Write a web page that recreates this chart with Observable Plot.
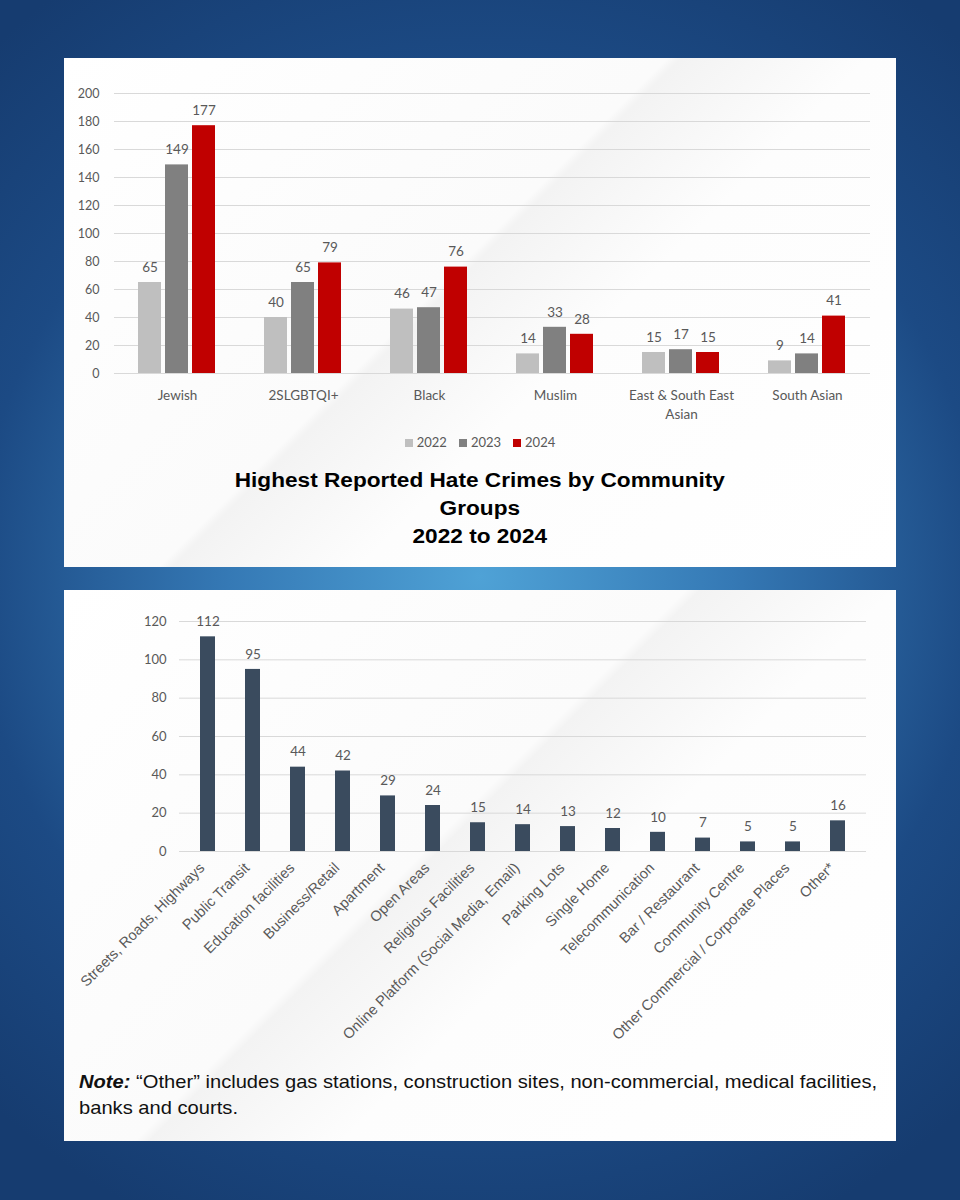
<!DOCTYPE html>
<html>
<head>
<meta charset="utf-8">
<script src="https://cdn.jsdelivr.net/npm/d3@7"></script>
<script src="https://cdn.jsdelivr.net/npm/@observablehq/plot@0.6"></script>
<style>
  html, body { margin: 0; padding: 0; }
  body {
    width: 960px; height: 1200px; position: relative; overflow: hidden;
    background: radial-gradient(ellipse 75% 60% at 50% 48%, #4fa2d6 0%, #3579b5 35%, #1c4a84 70%, #163c70 100%);
  }
  .panel {
    position: absolute; left: 64px; width: 832px;
    background: linear-gradient(135deg, #ffffff 0%, #fbfbfb 45%, #f3f3f3 46%, #fdfdfd 60%, #ffffff 100%);
    overflow: hidden;
  }
  #top { top: 58px; height: 509px; }
  #bottom { top: 590px; height: 551px; }
  .plot { position: absolute; left: 0; top: 0; }
  .legend {
    position: absolute; top: 376px; left: 0; width: 832px; text-align: center;
    font-family: Lato, sans-serif; font-size: 13px; color: #595959;
  }
  .legend span.item { display: inline-block; margin: 0 6px; }
  .legend span.sw { display: inline-block; width: 8px; height: 8px; margin-right: 4px; }
  .title {
    position: absolute; top: 408px; left: 0; width: 832px; text-align: center;
    font-family: "Liberation Sans", Arial, sans-serif; font-weight: bold; font-size: 19.5px;
    line-height: 28px; color: #000;
    transform: scaleX(1.16); transform-origin: 417px 0;
  }
  .note {
    position: absolute; left: 15px; top: 479px; width: 820px;
    font-family: "Liberation Sans", Arial, sans-serif; font-size: 19px; line-height: 26px; color: #111;
    transform: scaleX(1.06); transform-origin: 0 0; white-space: nowrap;
  }
</style>
</head>
<body>
<div id="top" class="panel">
  <div id="plotTop" class="plot"></div>
  <div class="legend" id="legend"></div>
  <div class="title">Highest Reported Hate Crimes by Community<br>Groups<br>2022 to 2024</div>
</div>
<div id="bottom" class="panel">
  <div id="plotBottom" class="plot"></div>
  <div class="note"><b><i>Note:</i></b> “Other” includes gas stations, construction sites, non-commercial, medical facilities,<br>banks and courts.</div>
</div>
<script>
// ---- Top chart data ----
const groups = ["Jewish", "2SLGBTQI+", "Black", "Muslim", "East & South East Asian", "South Asian"];
const years = ["2022", "2023", "2024"];
const values2022 = [65, 40, 46, 14, 15, 9];
const values2023 = [149, 65, 47, 33, 17, 14];
const values2024 = [177, 79, 76, 28, 15, 41];
const yearColors = ["#bfbfbf", "#808080", "#c00000"];
const topTicks = [0, 20, 40, 60, 80, 100, 120, 140, 160, 180, 200];

// ---- Bottom chart data ----
const locations = ["Streets, Roads, Highways", "Public Transit", "Education facilities", "Business/Retail",
  "Apartment", "Open Areas", "Religious Facilities", "Online Platform (Social Media, Email)", "Parking Lots",
  "Single Home", "Telecommunication", "Bar / Restaurant", "Community Centre",
  "Other Commercial / Corporate Places", "Other*"];
const locationCounts = [112, 95, 44, 42, 29, 24, 15, 14, 13, 12, 10, 7, 5, 5, 16];
const bottomTicks = [0, 20, 40, 60, 80, 100, 120];

const series = [values2022, values2023, values2024];
const rows = groups.flatMap((g, i) => years.map((yr, j) => ({group: g, year: yr, value: series[j][i]})));

const topPlot = Plot.plot({
  width: 832, height: 375,
  marginTop: 35, marginBottom: 60, marginLeft: 48, marginRight: 24,
  style: {fontFamily: "Lato, sans-serif", fontSize: "13px", color: "#595959", background: "transparent"},
  fx: {domain: groups, padding: 0, label: null},
  x: {domain: years, paddingInner: 0.145, paddingOuter: 0.876, axis: null},
  y: {domain: [0, 200], label: null},
  color: {domain: years, range: yearColors},
  marks: [
    Plot.gridY(topTicks, {stroke: "#d9d9d9", strokeOpacity: 1, strokeWidth: 1}),
    Plot.axisY(topTicks, {tickSize: 0, tickPadding: 15, label: null, fill: "#595959", fontSize: 12.5}),
    Plot.axisFx({anchor: "bottom", tickSize: 0, tickPadding: 14, label: null, lineWidth: 10, lineHeight: 1.35,
      fill: "#595959", fontSize: 13.5}),
    Plot.barY(rows, {fx: "group", x: "year", y: "value", fill: "year"}),
    Plot.text(rows, {fx: "group", x: "year", y: "value", text: d => String(d.value), dy: -15, fill: "#595959", fontSize: 13.5})
  ]
});
document.getElementById("plotTop").appendChild(topPlot);

// legend
const legend = document.getElementById("legend");
years.forEach((yr, i) => {
  const s = document.createElement("span");
  s.className = "item";
  s.innerHTML = `<span class="sw" style="background:${yearColors[i]}"></span>${yr}`;
  legend.appendChild(s);
});

const locRows = locations.map((l, i) => ({location: l, count: locationCounts[i]}));
const bottomPlot = Plot.plot({
  width: 832, height: 461,
  marginTop: 31, marginBottom: 200, marginLeft: 115, marginRight: 30,
  style: {fontFamily: "Lato, sans-serif", fontSize: "13px", color: "#595959", background: "transparent"},
  x: {domain: locations, paddingInner: 0.67, paddingOuter: 0.335, label: null},
  y: {domain: [0, 120], label: null},
  marks: [
    Plot.gridY(bottomTicks, {stroke: "#d9d9d9", strokeOpacity: 1, strokeWidth: 1}),
    Plot.axisY(bottomTicks, {tickSize: 0, tickPadding: 13, label: null, fill: "#595959", fontSize: 13}),
    Plot.axisX({tickRotate: -45, tickSize: 0, tickPadding: 14, dx: -6, label: null, fill: "#595959",
      fontFamily: "Liberation Sans, Arial, sans-serif", fontSize: 14.6}),
    Plot.barY(locRows, {x: "location", y: "count", fill: "#3a4b5e"}),
    Plot.text(locRows, {x: "location", y: "count", text: d => String(d.count), dy: -15, fill: "#595959", fontSize: 13.5})
  ]
});
document.getElementById("plotBottom").appendChild(bottomPlot);
</script>
</body>
</html>
